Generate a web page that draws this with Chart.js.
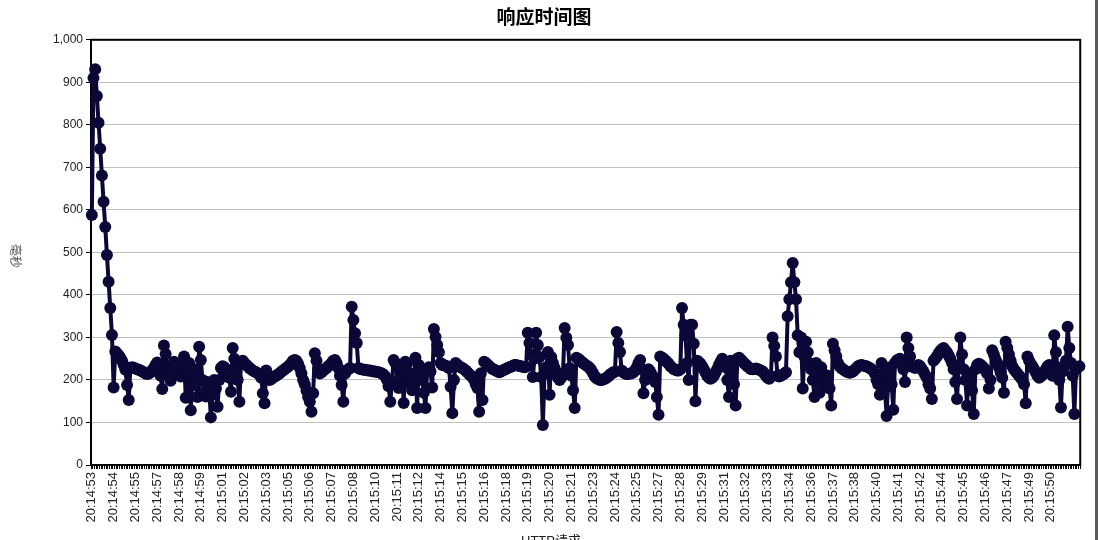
<html>
<head>
<meta charset="utf-8">
<title>响应时间图</title>
<script src="https://cdn.jsdelivr.net/npm/chart.js"></script>
<style>
  body { margin: 0; background: #fff; }
  #wrap { position: relative; width: 1098px; height: 540px; overflow: hidden; }
  #edge { position: absolute; left: 1095px; top: 0; width: 3px; height: 540px; background: #5a5a5a; }
</style>
</head>
<body>
<div id="wrap">
  <canvas id="rtChart" width="1098" height="540"></canvas>
  <div id="edge"></div>
</div>
<script>
// response time per HTTP request (ms)
var responseMs = [
588, 910, 931, 868, 805, 744, 681, 619, 560, 494,
431, 369, 306, 182, 267, 262, 258, 252, 245, 235,
224, 188, 153, 228, 230, 229, 227, 225, 224, 222,
220, 218, 215, 214, 215, 218, 222, 228, 235, 241,
232, 210, 179, 281, 261, 230, 215, 198, 220, 243,
231, 238, 236, 208, 225, 255, 158, 215, 240, 129,
200, 225, 188, 160, 278, 247, 200, 170, 161, 195,
175, 112, 165, 200, 180, 137, 200, 228, 232, 230,
225, 215, 205, 172, 275, 250, 225, 200, 149, 243,
245, 240, 236, 232, 228, 225, 222, 220, 218, 216,
214, 205, 169, 145, 222, 210, 200, 202, 205, 208,
210, 213, 216, 219, 222, 225, 228, 231, 235, 240,
245, 247, 245, 238, 228, 215, 200, 190, 175, 160,
149, 125, 169, 263, 245, 225, 215, 218, 222, 225,
228, 232, 235, 240, 245, 247, 240, 228, 210, 188,
149, 215, 222, 225, 228, 372, 341, 310, 287, 228,
226, 225, 224, 224, 223, 222, 222, 221, 220, 220,
219, 218, 217, 215, 212, 208, 200, 185, 149, 195,
247, 240, 228, 181, 210, 228, 146, 243, 238, 193,
215, 176, 200, 252, 134, 235, 225, 200, 170, 134,
224, 230, 220, 182, 320, 301, 282, 265, 240, 235,
235, 233, 232, 228, 184, 122, 200, 240, 236, 232,
230, 228, 225, 222, 218, 214, 210, 207, 200, 190,
181, 125, 216, 153, 243, 240, 236, 232, 229, 226,
224, 222, 220, 218, 220, 222, 224, 226, 228, 230,
231, 233, 235, 235, 234, 233, 232, 231, 230, 231,
311, 287, 260, 207, 250, 311, 282, 254, 207, 94,
215, 230, 266, 165, 254, 240, 228, 215, 205, 200,
205, 215, 322, 299, 282, 228, 210, 176, 134, 252,
250, 247, 243, 240, 237, 234, 231, 228, 222, 215,
208, 204, 202, 200, 200, 201, 203, 205, 208, 212,
215, 218, 219, 313, 287, 266, 222, 218, 215, 214,
214, 215, 216, 218, 222, 230, 240, 247, 225, 169,
200, 215, 225, 220, 212, 205, 195, 160, 118, 255,
252, 250, 246, 242, 238, 233, 229, 226, 224, 222,
222, 225, 369, 330, 305, 240, 200, 330, 330, 285,
150, 245, 242, 238, 232, 225, 218, 210, 205, 203,
205, 210, 218, 226, 235, 243, 250, 245, 230, 200,
160, 245, 225, 190, 140, 250, 252, 248, 244, 240,
236, 232, 229, 226, 225, 226, 227, 226, 224, 222,
220, 216, 210, 205, 203, 208, 300, 280, 255, 210,
208, 210, 212, 215, 218, 350, 390, 430, 475, 430,
390, 305, 265, 300, 180, 255, 290, 265, 240, 225,
200, 160, 240, 225, 170, 230, 215, 200, 190, 210,
180, 140, 285, 270, 255, 240, 232, 228, 225, 222,
220, 218, 217, 218, 220, 224, 228, 232, 234, 235,
234, 233, 232, 230, 228, 225, 222, 215, 200, 190,
165, 240, 215, 180, 115, 200, 230, 190, 130, 240,
245, 248, 250, 245, 225, 195, 300, 275, 255, 232,
230, 228, 232, 235, 232, 226, 220, 212, 205, 190,
180, 155, 245, 250, 255, 262, 268, 272, 275, 270,
265, 258, 250, 240, 225, 195, 155, 230, 300, 260,
225, 200, 140, 215, 205, 175, 120, 225, 235, 238,
236, 232, 228, 222, 215, 180, 200, 270, 260, 248,
240, 230, 218, 205, 170, 290, 275, 260, 245, 232,
225, 220, 215, 210, 205, 200, 190, 145, 255, 245,
238, 232, 225, 218, 210, 205, 208, 212, 218, 225,
232, 235, 230, 210, 305, 265, 230, 200, 135, 220,
230, 245, 325, 275, 240, 210, 120, 225, 230, 232
];

// time labels shown under the axis, one every labelEvery requests
var tickLabels = ['20:14:53','20:14:54','20:14:55','20:14:57','20:14:58','20:14:59',
  '20:15:01','20:15:02','20:15:03','20:15:05','20:15:06','20:15:07','20:15:08',
  '20:15:10','20:15:11','20:15:12','20:15:14','20:15:15','20:15:16','20:15:18',
  '20:15:19','20:15:20','20:15:21','20:15:23','20:15:24','20:15:25','20:15:27',
  '20:15:28','20:15:29','20:15:31','20:15:32','20:15:33','20:15:34','20:15:36',
  '20:15:37','20:15:38','20:15:40','20:15:41','20:15:42','20:15:44','20:15:45',
  '20:15:46','20:15:47','20:15:49','20:15:50'];
var labelEvery = 13;

var categories = responseMs.map(function(v, i) { return i; });

var lineColor = '#0b0838';

var framePlugin = {
  id: 'frame',
  beforeDatasetsDraw: function(chart) {
    var a = chart.chartArea, ctx = chart.ctx;
    ctx.save();
    ctx.strokeStyle = '#000';
    ctx.lineWidth = 2;
    ctx.strokeRect(a.left, a.top, a.right - a.left, a.bottom - a.top);
    ctx.restore();
  },
  afterDraw: function(chart) {
    var ctx = chart.ctx;
    ctx.save();
    ctx.fillStyle = '#555';
    ctx.font = '12px "Noto Sans CJK SC"';
    ctx.textAlign = 'center';
    ctx.textBaseline = 'middle';
    // y title reads top to bottom
    ctx.translate(16, 256);
    ctx.rotate(Math.PI / 2);
    ctx.fillText('毫秒', 0, 0);
    ctx.restore();

    ctx.save();
    ctx.fillStyle = '#222';
    ctx.font = '13px "Liberation Sans", "Noto Sans CJK SC"';
    ctx.textAlign = 'center';
    ctx.textBaseline = 'top';
    ctx.fillText('HTTP请求', 551, 535);
    ctx.restore();
  }
};

var chartObj = new Chart(document.getElementById('rtChart').getContext('2d'), {
  type: 'line',
  data: {
    labels: categories,
    datasets: [{
      label: '响应时间',
      data: responseMs,
      borderColor: lineColor,
      backgroundColor: lineColor,
      borderWidth: 4,
      borderJoinStyle: 'round',
      borderCapStyle: 'round',
      pointRadius: 6,
      pointBorderWidth: 0,
      pointBackgroundColor: lineColor,
      tension: 0,
      clip: false
    }]
  },
  options: {
    responsive: false,
    animation: false,
    layout: { padding: { top: 5, right: 10, bottom: 0, left: 0 } },
    plugins: {
      legend: { display: false },
      tooltip: { enabled: false },
      title: {
        display: true,
        text: '响应时间图',
        color: '#000',
        font: { family: '"Noto Sans CJK SC"', size: 19, weight: 'bold' },
        padding: { top: 0, bottom: 12 }
      }
    },
    scales: {
      x: {
        type: 'category',
        offset: true,
        afterFit: function(scale) { scale.height = 75; },
        grid: {
          display: true,
          offset: true,
          drawOnChartArea: false,
          drawTicks: true,
          tickLength: 4,
          tickColor: '#000',
          tickWidth: 1
        },
        border: { display: true, color: '#000', width: 2 },
        ticks: {
          autoSkip: false,
          maxRotation: 90,
          minRotation: 90,
          padding: 3,
          color: '#222',
          font: { family: '"Liberation Sans", Arial', size: 13 },
          callback: function(val, i) {
            return i % labelEvery === 0 ? (tickLabels[i / labelEvery] || '') : '';
          }
        }
      },
      y: {
        min: 0,
        max: 1000,
        afterFit: function(scale) { scale.width = 91; },
        grid: {
          color: '#c0c0c0',
          lineWidth: 1,
          drawTicks: true,
          tickLength: 5,
          tickColor: '#000'
        },
        border: { display: true, color: '#000', width: 2 },
        ticks: {
          stepSize: 100,
          padding: 3,
          color: '#222',
          font: { family: '"Liberation Sans", Arial', size: 12 },
          callback: function(v) { return v.toLocaleString('en-US'); }
        }
      }
    }
  },
  plugins: [framePlugin]
});
</script>
</body>
</html>
